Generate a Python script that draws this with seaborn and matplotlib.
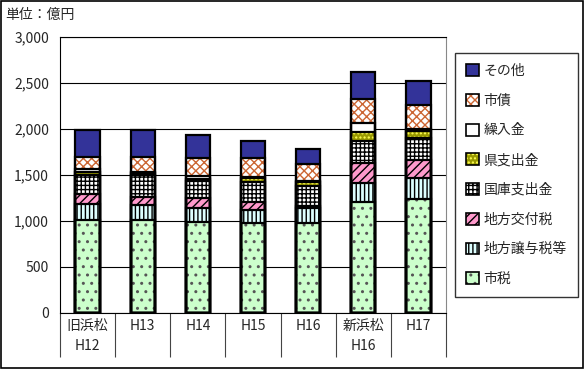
import matplotlib
matplotlib.use("Agg")
import matplotlib.pyplot as plt
import seaborn as sns
import numpy as np
from matplotlib.patches import Patch, Rectangle
from matplotlib.ticker import StrMethodFormatter

# 年度ラベル（旧浜松 H12-H16, 新浜松 H16-H17）
years = ["旧浜松\nH12", "H13", "H14", "H15", "H16", "新浜松\nH16", "H17"]

# 歳入の内訳（億円）
shizei = [1010, 1015, 990, 980, 980, 1210, 1235]          # 市税
joyozei = [170, 155, 155, 145, 160, 205, 235]            # 地方譲与税等
kofuzei = [115, 95, 100, 85, 20, 215, 190]               # 地方交付税
kokko = [210, 230, 190, 215, 220, 245, 245]              # 国庫支出金
ken = [30, 25, 25, 40, 45, 90, 75]                       # 県支出金
kuriire = [25, 15, 25, 10, 15, 95, 20]                   # 繰入金
shisai = [135, 165, 195, 210, 175, 265, 260]             # 市債
sonota = [295, 285, 250, 185, 165, 295, 260]             # その他

layers = [
    ("市税", shizei, "#CCFFCC", "..", "#555555"),
    ("地方譲与税等", joyozei, "#DDFFFF", "||||", "black"),
    ("地方交付税", kofuzei, "#FF99CC", "////", "black"),
    ("国庫支出金", kokko, "white", "++++", "black"),
    ("県支出金", ken, "#999900", "....", "#FFFF55"),
    ("繰入金", kuriire, "white", "", "black"),
    ("市債", shisai, "white", "xxxx", "#CC6633"),
    ("その他", sonota, "#333399", "", "#333399"),
]

plt.rcParams["hatch.linewidth"] = 1.0
sns.set_style("white")
plt.rcParams["font.family"] = ["Noto Sans CJK JP", "DejaVu Sans"]

fig = plt.figure(figsize=(5.85, 3.69), dpi=100)
ax = fig.add_axes([60 / 585, 56 / 369, 386 / 585, 276 / 369])

# 積み上げ：上の層から順に累積値で描き、下の層で上書き
cums = np.cumsum([np.array(l[1]) for l in layers], axis=0)
bw = 0.44
for i in range(len(layers) - 1, -1, -1):
    name, vals, fc, hatch, hc = layers[i]
    sns.barplot(x=years, y=cums[i], color=fc, saturation=1, width=bw,
                hatch=hatch, edgecolor=hc, linewidth=0, ax=ax, zorder=2)
for i in range(len(layers)):
    sns.barplot(x=years, y=cums[i], color="black", fill=False, width=bw,
                linewidth=1.6, ax=ax, zorder=3)

ax.set_ylim(0, 3000)
ax.set_xlim(-0.5, len(years) - 0.5)
ax.set_yticks(range(0, 3001, 500))
ax.yaxis.set_major_formatter(StrMethodFormatter("{x:,.0f}"))
ax.grid(axis="y", color="black", linewidth=0.8)
ax.set_axisbelow(True)
ax.set_xlabel("")
ax.set_ylabel("")
for s in ax.spines.values():
    s.set_visible(True)
    s.set_color("black")
    s.set_linewidth(0.8)
ax.spines["right"].set_color("#888888")

ax.tick_params(axis="y", length=0, pad=8, labelsize=10)
ax.set_xticks(range(len(years)), labels=years)
ax.tick_params(axis="x", which="major", bottom=False, length=0, pad=4, labelsize=10)
ax.set_xticks(np.arange(-0.5, len(years)), minor=True)
ax.tick_params(axis="x", which="minor", bottom=True, length=32, width=0.8,
               color="#444444", direction="out")
for t in ax.get_xticklabels():
    t.set_linespacing(1.6)

# 凡例
handles = [(Patch(facecolor=fc, edgecolor=hc, hatch=h, linewidth=0),
            Patch(facecolor="none", edgecolor="black", linewidth=1.2))
           for name, vals, fc, h, hc in layers][::-1]
labels = [l[0] for l in layers][::-1]
leg = fig.legend(handles, labels, loc="upper left",
                 bbox_to_anchor=(455 / 585, 1 - 53 / 369),
                 frameon=True, fancybox=False, edgecolor="black",
                 fontsize=10, handlelength=0.95, handleheight=0.95,
                 handletextpad=0.3, labelspacing=1.13, borderpad=0.8,
                 borderaxespad=0)
leg.get_frame().set_linewidth(1.0)

fig.text(5 / 585, 1 - 15 / 369, "単位：億円", fontsize=10, va="center", ha="left")
fig.add_artist(Rectangle((0.002, 0.003), 0.995, 0.994, transform=fig.transFigure,
                         fill=False, edgecolor="black", linewidth=1.2))

fig.savefig("out.png", dpi=100)
